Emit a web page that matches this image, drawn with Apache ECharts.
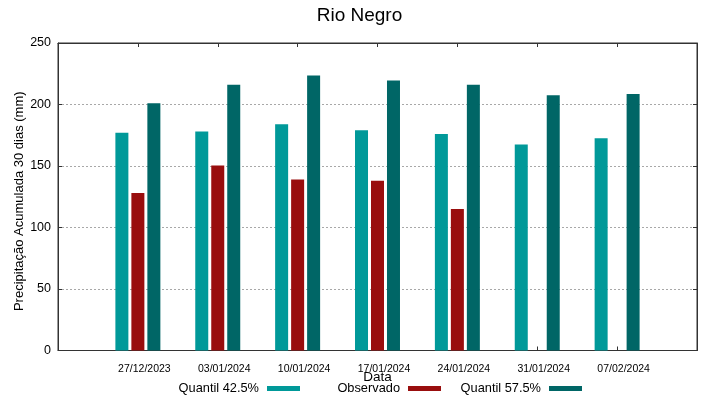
<!DOCTYPE html>
<html>
<head>
<meta charset="utf-8">
<script src="https://cdn.jsdelivr.net/npm/echarts@6/dist/echarts.min.js"></script>
<style>
html,body{margin:0;padding:0;background:#fff;}
#c{width:719px;height:399px;}
</style>
</head>
<body>
<div id="c"></div>
<script>
const dates = ['27/12/2023','03/01/2024','10/01/2024','17/01/2024','24/01/2024','31/01/2024','07/02/2024'];
const quantil425 = [177, 178, 184, 179, 176, 167.5, 172.5];
const observado = [128, 150.5, 139, 138, 115, null, null];
const quantil575 = [201, 216, 223.5, 219.5, 216, 207.5, 208.5];
const yTicks = [0, 50, 100, 150, 200, 250];

const FONT = '"Liberation Sans", Arial, sans-serif';
const cats = [''].concat(dates, ['']);
const pad = arr => [null].concat(arr, [null]);

const chart = echarts.init(document.getElementById('c'), null, {renderer: 'canvas'});
const legendBase = {
  orient: 'horizontal', align: 'right', icon: 'rect', itemWidth: 33, itemHeight: 5,
  padding: 0, top: 382, selectedMode: false,
  textStyle: {fontFamily: FONT, fontSize: 12.8, color: '#000', padding: [0, 3, 0, 0]}
};
const tick = {show: true, inside: true, length: 4, lineStyle: {color: '#333', width: 1}};
chart.setOption({
  backgroundColor: '#fff',
  animation: false,
  title: {
    text: 'Rio Negro', left: 'center', top: 1,
    textStyle: {fontFamily: FONT, fontSize: 19, fontWeight: 'normal', color: '#000'}
  },
  legend: [
    Object.assign({}, legendBase, {data: ['Quantil 42.5%'], right: 419}),
    Object.assign({}, legendBase, {data: ['Observado'], right: 278}),
    Object.assign({}, legendBase, {data: ['Quantil 57.5%'], right: 137})
  ],
  grid: {left: 58, top: 43, width: 639, height: 307.5, show: true, borderColor: '#333', borderWidth: 1,
         containLabel: false, outerBoundsMode: 'none'},
  xAxis: [{
    type: 'category', data: cats, boundaryGap: false, position: 'bottom',
    name: 'Data', nameLocation: 'middle', nameGap: 20, nameMoveOverlap: false,
    nameTextStyle: {fontFamily: FONT, fontSize: 13.5, color: '#000', lineHeight: 13},
    axisLine: {show: true, onZero: false, lineStyle: {color: '#333'}},
    axisTick: tick,
    axisLabel: {interval: 0, fontFamily: FONT, fontSize: 10.5, color: '#000', margin: 13, padding: [0, 0, 0, 13]},
    splitLine: {show: false}
  }, {
    type: 'category', data: cats, boundaryGap: false, position: 'top',
    axisLine: {show: true, onZero: false, lineStyle: {color: '#333'}},
    axisTick: tick,
    axisLabel: {show: false}, splitLine: {show: false}
  }],
  yAxis: [{
    type: 'value', min: yTicks[0], max: yTicks[yTicks.length - 1], interval: 50, position: 'left',
    name: 'Precipitação Acumulada 30 dias (mm)', nameLocation: 'middle', nameGap: 32, nameRotate: 90, nameMoveOverlap: false,
    nameTextStyle: {fontFamily: FONT, fontSize: 13, color: '#000', padding: [0, 9, 0, 0]},
    axisLine: {show: true, lineStyle: {color: '#333'}},
    axisTick: tick,
    axisLabel: {fontFamily: FONT, fontSize: 12.5, color: '#000', margin: 7},
    splitLine: {show: true, lineStyle: {color: '#a8a8a8', type: [2, 2], width: 1}}
  }, {
    type: 'value', min: yTicks[0], max: yTicks[yTicks.length - 1], interval: 50, position: 'right',
    axisLine: {show: true, lineStyle: {color: '#333'}},
    axisTick: tick,
    axisLabel: {show: false}, splitLine: {show: false}
  }],
  series: [
    {name: 'Quantil 42.5%', type: 'bar', data: pad(quantil425), barWidth: 13, barGap: '23%', itemStyle: {color: '#009999'}},
    {name: 'Observado', type: 'bar', data: pad(observado), barWidth: 13, barGap: '23%', itemStyle: {color: '#990e0e'}},
    {name: 'Quantil 57.5%', type: 'bar', data: pad(quantil575), barWidth: 13, barGap: '23%', itemStyle: {color: '#006666'}}
  ]
});
</script>
</body>
</html>
